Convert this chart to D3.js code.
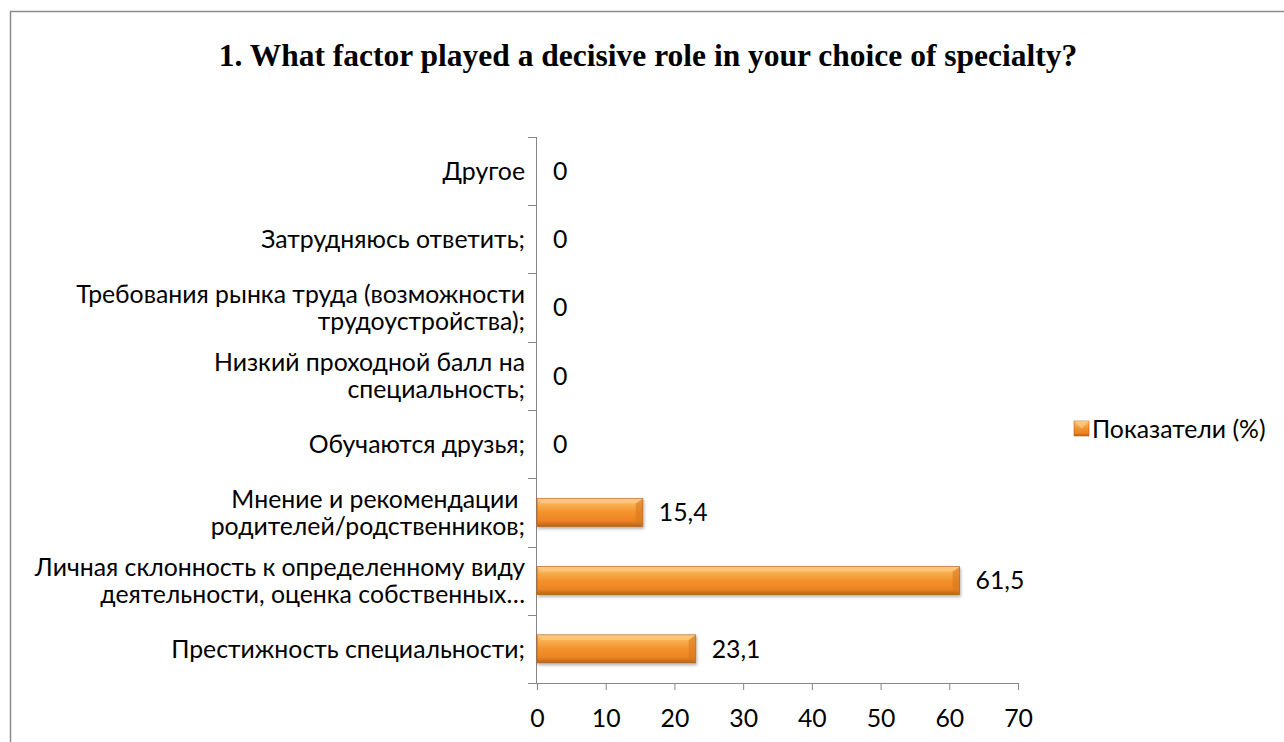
<!DOCTYPE html>
<html><head><meta charset="utf-8">
<script src="https://cdn.jsdelivr.net/npm/d3@7/dist/d3.min.js"></script>
<style>body{margin:0;background:#fff}svg{display:block}</style>
</head><body>
<svg id="c" width="1284" height="742"></svg>
<script>
const title = "1. What factor played a decisive role in your choice of specialty?";
const categories = [
  "Престижность специальности;",
  "Личная склонность к определенному виду\nдеятельности, оценка собственных…",
  "Мнение и рекомендации \nродителей/родственников;",
  "Обучаются друзья;",
  "Низкий проходной балл на\nспециальность;",
  "Требования рынка труда (возможности\nтрудоустройства);",
  "Затрудняюсь ответить;",
  "Другое"
];
const values = [23.1, 61.5, 15.4, 0, 0, 0, 0, 0];
const valueLabels = ["23,1", "61,5", "15,4", "0", "0", "0", "0", "0"];
const xTicks = [0, 10, 20, 30, 40, 50, 60, 70];
const seriesName = "Показатели (%)";

const svg = d3.select("#c");
const font = "Lato, 'Open Sans', sans-serif";
const fs = 24.8;
const axisColor = "#868686";

// outer border
svg.append("path").attr("d", "M10.5,742 L10.5,11.5 L1284,11.5")
  .attr("fill", "none").attr("stroke", "#8c8c8c").attr("stroke-width", 1.5);

svg.append("text").attr("x", 648).attr("y", 66).attr("text-anchor", "middle")
  .attr("font-family", "'Liberation Serif', 'Times New Roman', serif")
  .attr("font-weight", "bold").attr("font-size", 31.5).text(title);

const defs = svg.append("defs");
const g1 = defs.append("linearGradient").attr("id", "barG").attr("x1", 0).attr("y1", 0).attr("x2", 0).attr("y2", 1);
[[0, "#fbc27a"], [0.2, "#f9b050"], [0.5, "#f4922c"], [0.8, "#ec8422"], [1, "#b9621b"]]
  .forEach(([o, c]) => g1.append("stop").attr("offset", o).attr("stop-color", c));
const f = defs.append("filter").attr("id", "sh").attr("x", "-5%").attr("y", "-20%").attr("width", "110%").attr("height", "160%");
f.append("feDropShadow").attr("dx", 1).attr("dy", 2).attr("stdDeviation", 1.5).attr("flood-color", "#000").attr("flood-opacity", 0.3);

const x0 = 537, x1 = 1018, yTop = 137, yBot = 683;
const x = d3.scaleLinear().domain([0, 70]).range([x0, x1]);
const y = d3.scaleBand().domain(d3.range(categories.length)).range([yBot, yTop]).paddingInner(0.59).paddingOuter(0.295);

// axes
const xAxis = d3.axisBottom(x).tickValues(xTicks).tickSize(7).tickPadding(19).tickFormat(d => d);
const gx = svg.append("g").attr("transform", `translate(0,${yBot})`).call(xAxis);
gx.select(".domain").remove();
gx.append("line").attr("x1", x0 - 9).attr("x2", x1).attr("y1", 0.5).attr("y2", 0.5).attr("stroke", axisColor);
gx.selectAll(".tick line").attr("stroke", axisColor);
gx.selectAll(".tick text").attr("font-family", font).attr("font-size", fs).attr("fill", "#000");

// y axis line and ticks at category boundaries
svg.append("line").attr("x1", x0 - 0.5).attr("x2", x0 - 0.5).attr("y1", yTop).attr("y2", yBot).attr("stroke", axisColor);
svg.selectAll(".ytick").data(d3.range(categories.length)).join("line")
  .attr("x1", x0 - 9).attr("x2", x0)
  .attr("y1", i => Math.round(y(i) - y.step() * y.paddingInner() / 2) + 0.5)
  .attr("y2", i => Math.round(y(i) - y.step() * y.paddingInner() / 2) + 0.5)
  .attr("stroke", axisColor);

// category labels
const lh = 27;
svg.selectAll(".cat").data(categories).join("text")
  .attr("font-family", font).attr("font-size", fs).attr("text-anchor", "end").attr("fill", "#000")
  .each(function(d, i) {
    const lines = d.split("\n");
    const cy = y(i) + y.bandwidth() / 2;
    const t = d3.select(this);
    lines.forEach((l, k) => {
      t.append("tspan").attr("x", 525)
        .attr("y", cy + (k - (lines.length - 1) / 2) * lh)
        .attr("dy", "0.35em").text(l);
    });
  });

// bars
values.forEach((d, i) => {
  if (d <= 0) return;
  const gg = svg.append("g").attr("filter", "url(#sh)");
  const bx = x(0), bw = x(d) - x(0), by = y(i), bh = y.bandwidth();
  gg.append("rect").attr("x", bx).attr("y", by).attr("width", bw).attr("height", bh)
    .attr("fill", "url(#barG)").attr("stroke", "#b5631c").attr("stroke-width", 0.8);
  gg.append("path").attr("d", `M${bx + bw},${by} L${bx + bw - 7},${by + 5} L${bx + bw - 7},${by + bh - 5} L${bx + bw},${by + bh} Z`)
    .attr("fill", "#d9781f").attr("opacity", 0.6);
  gg.append("path").attr("d", `M${bx},${by} L${bx + bw},${by} L${bx + bw - 7},${by + 5} L${bx + 4},${by + 5} Z`)
    .attr("fill", "#fdd28e").attr("opacity", 0.5);
});

// value labels
svg.selectAll(".val").data(values).join("text")
  .attr("x", d => x(d) + 16).attr("y", (d, i) => y(i) + y.bandwidth() / 2)
  .attr("dy", "0.35em").attr("font-family", font).attr("font-size", fs).attr("fill", "#000")
  .text((d, i) => valueLabels[i]);

// legend
const lg = svg.append("g").attr("transform", "translate(1074,421)");
lg.append("rect").attr("width", 15).attr("height", 15).attr("fill", "url(#barG)").attr("stroke", "#b5631c").attr("stroke-width", 0.6);
lg.append("path").attr("d", "M0,0 L15,0 L7.5,8 Z").attr("fill", "#fdd28e").attr("opacity", 0.6);
lg.append("text").attr("x", 18).attr("y", 8).attr("dy", "0.35em").attr("font-family", font).attr("font-size", fs).text(seriesName);
</script>
</body></html>
